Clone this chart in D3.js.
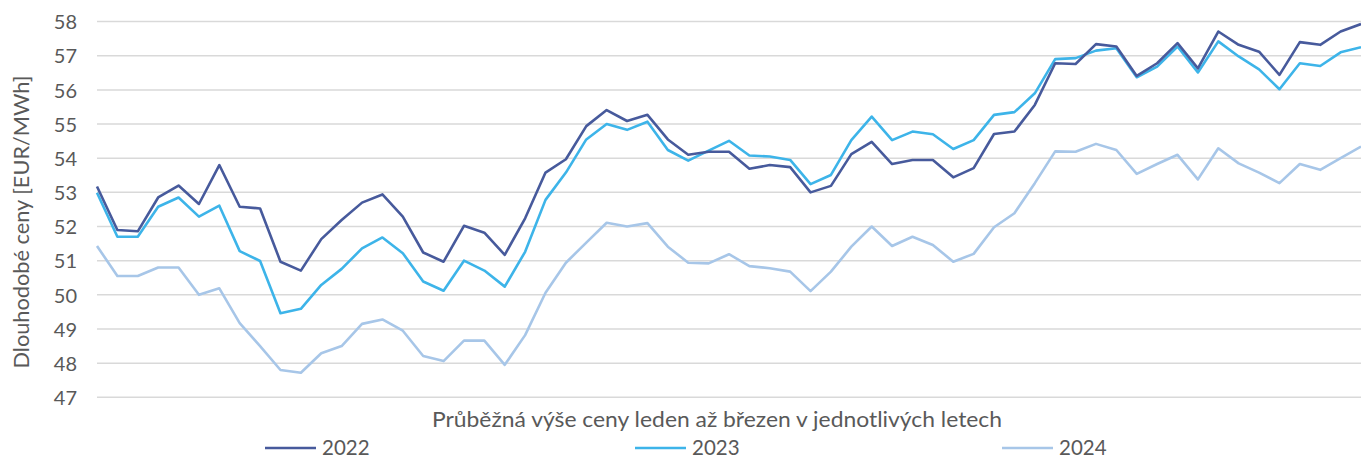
<!DOCTYPE html>
<html><head><meta charset="utf-8">
<script src="https://cdn.jsdelivr.net/npm/d3@7"></script>
<style>body{margin:0;background:#fff}svg{display:block}text{font-family:Lato,sans-serif;fill:#595959}</style>
</head><body>
<script>
const yTicks = [47,48,49,50,51,52,53,54,55,56,57,58];
const seriesNames = ["2022","2023","2024"];
const colors = ["#475a9c","#3db4e9","#a7c6e8"];
const s2022 = [53.17,51.9,51.86,52.85,53.2,52.66,53.8,52.58,52.53,50.97,50.71,51.63,52.19,52.7,52.94,52.29,51.24,50.97,52.02,51.82,51.17,52.24,53.58,53.97,54.94,55.41,55.09,55.27,54.55,54.1,54.19,54.19,53.69,53.8,53.74,53.0,53.19,54.12,54.48,53.83,53.95,53.95,53.44,53.71,54.71,54.78,55.56,56.78,56.76,57.34,57.27,56.41,56.78,57.37,56.63,57.71,57.32,57.12,56.44,57.4,57.32,57.71,57.93];
const s2023 = [52.99,51.7,51.7,52.58,52.85,52.29,52.61,51.28,50.99,49.46,49.59,50.29,50.76,51.36,51.68,51.22,50.39,50.12,51.0,50.71,50.24,51.26,52.78,53.58,54.55,55.0,54.83,55.07,54.24,53.93,54.22,54.51,54.08,54.05,53.95,53.24,53.51,54.53,55.22,54.53,54.78,54.7,54.27,54.53,55.27,55.35,55.9,56.9,56.93,57.15,57.22,56.37,56.68,57.27,56.51,57.42,56.98,56.6,56.02,56.78,56.7,57.1,57.25];
const s2024 = [51.43,50.55,50.55,50.8,50.8,50.0,50.19,49.17,48.5,47.8,47.72,48.29,48.5,49.15,49.28,48.95,48.21,48.06,48.66,48.66,47.95,48.82,50.06,50.94,51.53,52.11,52.0,52.1,51.41,50.94,50.92,51.19,50.84,50.78,50.68,50.11,50.68,51.41,52.0,51.43,51.7,51.46,50.97,51.2,51.98,52.39,53.27,54.2,54.19,54.42,54.24,53.54,53.83,54.1,53.38,54.29,53.85,53.58,53.27,53.83,53.66,54.0,54.34];
const allSeries = [s2022,s2023,s2024];

const W=1361,H=458;
const m={left:97,right:1361,top:21.6,bottom:397.3};
const svg=d3.select("body").append("svg").attr("width",W).attr("height",H);
const x=d3.scaleLinear().domain([0,s2022.length-1]).range([m.left,m.right]);
const y=d3.scaleLinear().domain([47,58]).range([m.bottom,m.top]);

// gridlines
svg.append("g").selectAll("line").data(yTicks).join("line")
  .attr("x1",m.left).attr("x2",m.right)
  .attr("y1",d=>y(d)).attr("y2",d=>y(d))
  .attr("stroke","#d9d9d9").attr("stroke-width",1.5);

// y axis labels
const yAxis=d3.axisLeft(y).tickValues(yTicks).tickSize(0).tickPadding(0).tickFormat(d3.format("d"));
const ga=svg.append("g").attr("transform","translate(77,0)").call(yAxis);
ga.select(".domain").remove();
ga.selectAll("text").attr("font-size",20).attr("fill","#595959").attr("font-family","Lato,sans-serif").attr("dy","0.36em");

// lines
const line=d3.line().x((d,i)=>x(i)).y(d=>y(d));
allSeries.slice().reverse().forEach((s,k)=>{
  const idx=allSeries.length-1-k;
  svg.append("path").datum(s).attr("d",line).attr("fill","none")
    .attr("stroke",colors[idx]).attr("stroke-width",2.6).attr("stroke-linejoin","round");
});

// axis titles
svg.append("text").attr("transform","translate(29,222) rotate(-90)").attr("text-anchor","middle")
  .attr("font-size",21).attr("textLength",293).attr("lengthAdjust","spacingAndGlyphs")
  .text("Dlouhodobé ceny [EUR/MWh]");
svg.append("text").attr("x",717).attr("y",427).attr("text-anchor","middle")
  .attr("font-size",21).attr("textLength",570).attr("lengthAdjust","spacingAndGlyphs")
  .text("Průběžná výše ceny leden až březen v jednotlivých letech");

// legend
const legX=[265,635,1002];
const lg=svg.append("g");
seriesNames.forEach((n,i)=>{
  lg.append("line").attr("x1",legX[i]).attr("x2",legX[i]+51).attr("y1",448).attr("y2",448)
    .attr("stroke",colors[i]).attr("stroke-width",2.6);
  lg.append("text").attr("x",legX[i]+57).attr("y",455).attr("font-size",20.5).text(n);
});
</script>
</body></html>
